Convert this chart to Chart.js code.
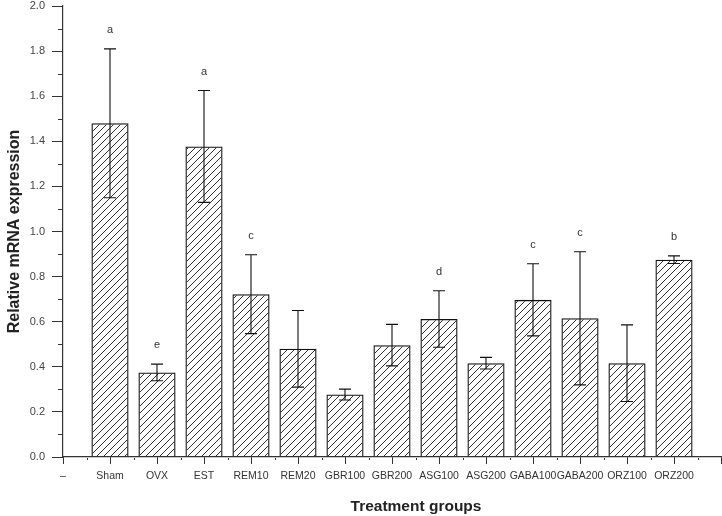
<!DOCTYPE html>
<html>
<head>
<meta charset="utf-8">
<script src="https://cdn.jsdelivr.net/npm/chart.js@4/dist/chart.umd.min.js"></script>
<style>
    body { margin: 0; background: #fff; }
    #wrap { width: 722px; height: 516px; }
</style>
</head>
<body>
<div id="wrap"><canvas id="chart"></canvas></div>
<script>
const groups = ['–', 'Sham', 'OVX', 'EST', 'REM10', 'REM20', 'GBR100', 'GBR200', 'ASG100', 'ASG200', 'GABA100', 'GABA200', 'ORZ100', 'ORZ200', ''];
const means = [null, 1.48, 0.375, 1.377, 0.722, 0.48, 0.277, 0.496, 0.612, 0.416, 0.697, 0.615, 0.416, 0.875, null];
const errors = [null, 0.33, 0.037, 0.248, 0.175, 0.17, 0.024, 0.092, 0.125, 0.026, 0.16, 0.295, 0.17, 0.017, null];
const letters = ['', 'a', 'e', 'a', 'c', '', '', '', 'd', '', 'c', 'c', '', 'b', ''];

(function() {
    const FONT = '"Liberation Sans", Arial, sans-serif';

    function makeHatch() {
        const c = document.createElement('canvas');
        c.width = 7;
        c.height = 7;
        const g = c.getContext('2d');
        g.strokeStyle = '#1a1a1a';
        g.lineWidth = 0.9;
        g.beginPath();
        g.moveTo(-1, 8); g.lineTo(8, -1);
        g.moveTo(-1, 1); g.lineTo(1, -1);
        g.moveTo(6, 8); g.lineTo(8, 6);
        g.stroke();
        return g.createPattern(c, 'repeat');
    }

    const extras = {
        id: 'extras',
        afterDatasetsDraw(chart) {
            const ctx = chart.ctx;
            const x = chart.scales.x;
            const y = chart.scales.y;
            ctx.save();
            ctx.strokeStyle = '#111';
            ctx.lineWidth = 1.1;
            ctx.fillStyle = '#333';
            ctx.font = '11px ' + FONT;
            ctx.textAlign = 'center';
            ctx.textBaseline = 'middle';
            means.forEach(function(m, i) {
                if (m === null) return;
                const px = x.getPixelForValue(i);
                const hi = y.getPixelForValue(m + errors[i]);
                const lo = y.getPixelForValue(m - errors[i]);
                ctx.beginPath();
                ctx.moveTo(px, hi); ctx.lineTo(px, lo);
                ctx.moveTo(px - 6, hi); ctx.lineTo(px + 6, hi);
                ctx.moveTo(px - 6, lo); ctx.lineTo(px + 6, lo);
                ctx.stroke();
                if (letters[i]) ctx.fillText(letters[i], px, hi - 19);
            });

            // minor ticks
            ctx.strokeStyle = '#333';
            ctx.lineWidth = 1;
            ctx.beginPath();
            for (let v = 0.1; v < 2; v += 0.2) {
                const py = Math.round(y.getPixelForValue(v)) + 0.5;
                ctx.moveTo(y.right - 5, py); ctx.lineTo(y.right, py);
            }
            for (let i = 0; i < groups.length - 1; i++) {
                const px = Math.round((x.getPixelForValue(i) + x.getPixelForValue(i + 1)) / 2) + 0.5;
                ctx.moveTo(px, x.top + 1); ctx.lineTo(px, x.top + 3);
            }
            ctx.stroke();

            // x axis title
            ctx.fillStyle = '#222';
            ctx.font = 'bold 15.5px ' + FONT;
            ctx.fillText('Treatment groups', 416, 507);
            ctx.restore();
        }
    };

    new Chart('chart', {
        type: 'bar',
        data: {
            labels: groups,
            datasets: [{
                data: means,
                backgroundColor: makeHatch(),
                borderColor: '#111',
                borderWidth: 1.3,
                categoryPercentage: 1,
                barPercentage: 0.79
            }]
        },
        options: {
            responsive: true,
            maintainAspectRatio: false,
            animation: false,
            layout: { padding: { top: 6, right: 1, left: 0, bottom: 0 } },
            plugins: {
                legend: { display: false },
                tooltip: { enabled: false }
            },
            scales: {
                x: {
                    offset: false,
                    grid: { drawOnChartArea: false, offset: false, tickLength: 7, color: '#333' },
                    border: { color: '#333', width: 1.2 },
                    ticks: {
                        autoSkip: false, maxRotation: 0, color: '#333', padding: 6,
                        font: { family: FONT, size: 10.5 }
                    },
                    afterFit: function(s) {
                        s.height = 59;
                        s.paddingLeft = 0;
                        s.paddingRight = 0;
                    }
                },
                y: {
                    min: 0,
                    max: 2,
                    grid: { drawOnChartArea: false, tickLength: 11, color: '#333' },
                    border: { color: '#333', width: 1.2 },
                    ticks: {
                        stepSize: 0.2, color: '#444', padding: 7,
                        font: { family: FONT, size: 11 },
                        callback: function(v) { return v.toFixed(1); }
                    },
                    title: {
                        display: true, text: 'Relative mRNA expression', color: '#222',
                        font: { family: FONT, size: 16, weight: 'bold', lineHeight: 1.2 },
                        padding: { top: 5 }
                    },
                    afterFit: function(s) {
                        s.width = 63;
                        s.paddingTop = 0;
                        s.paddingBottom = 0;
                    }
                }
            }
        },
        plugins: [extras]
    });
})();
</script>
</body>
</html>
